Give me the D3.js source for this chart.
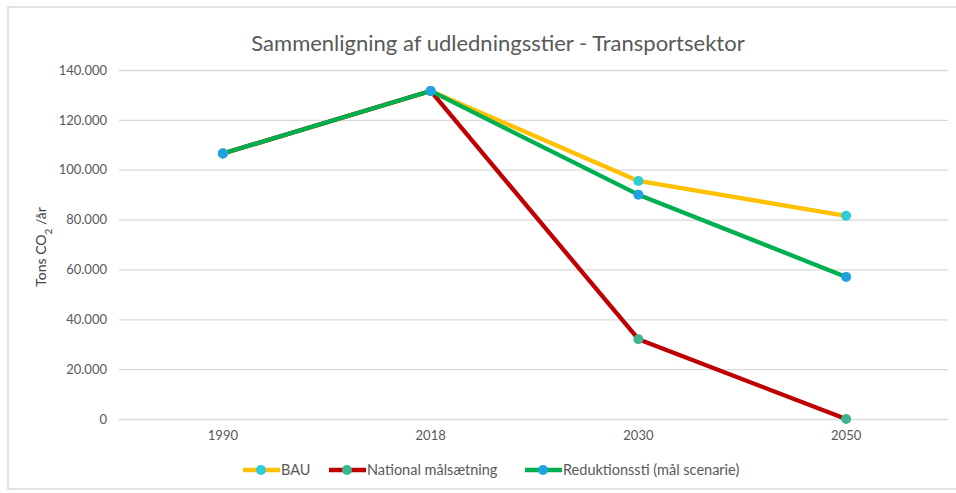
<!DOCTYPE html>
<html><head><meta charset="utf-8">
<script src="https://cdn.jsdelivr.net/npm/d3@7"></script>
<style>body{margin:0;background:#fff}svg{display:block;font-family:Lato,"Open Sans",sans-serif}</style>
</head><body><svg id="c" width="956" height="493"></svg>
<script>
const categories = ["1990","2018","2030","2050"];
const bau = [106500, 131600, 95500, 81500];
const national = [106500, 131600, 32000, 0];
const reduktion = [106500, 131600, 90000, 57000];
const yTicks = [0,20000,40000,60000,80000,100000,120000,140000];
const seriesNames = ["BAU","National målsætning","Reduktionssti (mål scenarie)"];
const lineColors = ["#FFC000","#C00000","#00B050"];
const markerColors = ["#2ECBDA","#3DB58E","#1FA3E0"];
const seriesVals = [bau, national, reduktion];

const svg = d3.select("#c");
svg.append("rect").attr("x",8).attr("y",7).attr("width",960).attr("height",482)
  .attr("fill","#fff").attr("stroke","#d9d9d9").attr("stroke-width",1.5);

const pLeft=119, pRight=950, pTop=70, pBottom=419;
const x = d3.scaleBand().domain(categories).range([pLeft,pRight]);
const y = d3.scaleLinear().domain([0,140000]).range([pBottom,pTop]);
const fmt = d => d3.format(",")(d).replace(/,/g,".");

svg.append("text").attr("x",498).attr("y",51).attr("text-anchor","middle")
  .attr("font-size",22).attr("fill","#595959").text("Sammenligning af udledningsstier - Transportsektor");

const yAxis = svg.append("g").attr("transform",`translate(${pLeft},0)`)
  .call(d3.axisLeft(y).tickValues(yTicks).tickFormat(fmt).tickSize(-(pRight-pLeft-2)).tickPadding(12));
yAxis.select(".domain").remove();
yAxis.selectAll(".tick line").attr("stroke","#d9d9d9").attr("stroke-width",1.3);
yAxis.selectAll(".tick text").attr("fill","#595959").attr("font-size",13).attr("font-family","Lato,'Open Sans',sans-serif");

const xAxis = svg.append("g").attr("transform",`translate(0,${pBottom})`)
  .call(d3.axisBottom(x).tickSize(0).tickPadding(12));
xAxis.select(".domain").remove();
xAxis.selectAll(".tick text").attr("fill","#595959").attr("font-size",13).attr("font-family","Lato,'Open Sans',sans-serif");

svg.append("text").attr("transform","translate(46,247) rotate(-90)").attr("text-anchor","middle")
  .attr("font-size",14).attr("fill","#404040")
  .html('Tons CO<tspan baseline-shift="sub" font-size="10">2</tspan> /år');

const cx = c => x(c)+x.bandwidth()/2;
const line = d3.line().x((d,i)=>cx(categories[i])).y(d=>y(d));
seriesVals.forEach((vals,s)=>{
  svg.append("path").datum(vals).attr("d",line).attr("fill","none")
    .attr("stroke",lineColors[s]).attr("stroke-width",4.3).attr("stroke-linejoin","round");
});
seriesVals.forEach((vals,s)=>{
  svg.selectAll(null).data(vals).enter().append("circle")
    .attr("cx",(d,i)=>cx(categories[i])).attr("cy",d=>y(d)).attr("r",5)
    .attr("fill",markerColors[s]);
});

const legX = [243, 329, 525];
const lg = svg.append("g");
seriesNames.forEach((n,s)=>{
  const g = lg.append("g").attr("transform",`translate(${legX[s]},470)`);
  g.append("line").attr("x1",0).attr("x2",37).attr("stroke",lineColors[s]).attr("stroke-width",4.3);
  g.append("circle").attr("cx",18).attr("r",5).attr("fill",markerColors[s]);
  g.append("text").attr("x",38).attr("y",5).attr("font-size",14.5).attr("fill","#595959").text(n);
});
</script></body></html>
